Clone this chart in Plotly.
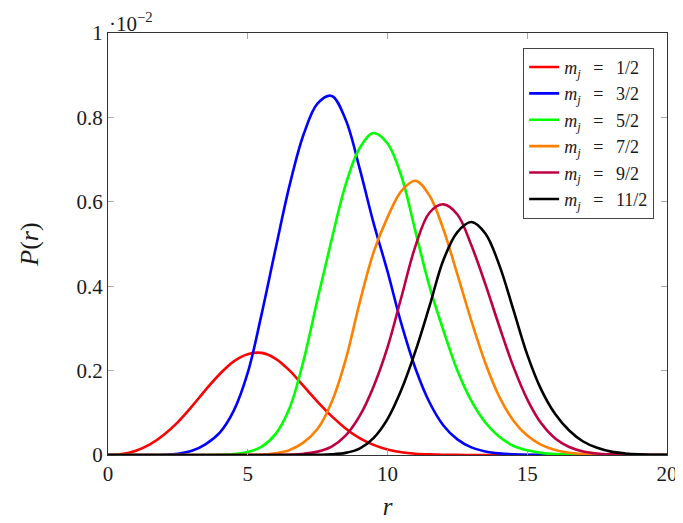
import plotly.graph_objects as go

r = [i * 0.5 for i in range(41)]

labels = ["1/2", "3/2", "5/2", "7/2", "9/2", "11/2"]
colors = ["#ff0000", "#0000ff", "#00ff00", "#ff8000", "#bf0040", "#000000"]

p_half_1 = [0, 0.002, 0.010, 0.025, 0.048, 0.078, 0.115, 0.155, 0.192, 0.222,
            0.239, 0.242, 0.228, 0.200, 0.163, 0.126, 0.092, 0.063, 0.040, 0.024,
            0.013, 0.0065, 0.003, 0.0014, 0.0006, 0.0002, 0.0001, 0, 0, 0,
            0, 0, 0, 0, 0, 0, 0, 0, 0, 0, 0]
p_half_3 = [0, 0, 0, 0, 0.0005, 0.003, 0.010, 0.026, 0.053, 0.105,
            0.195, 0.335, 0.490, 0.640, 0.760, 0.833, 0.851, 0.795, 0.680, 0.550,
            0.435, 0.310, 0.205, 0.125, 0.070, 0.037, 0.018, 0.0085, 0.0038, 0.0016,
            0.0006, 0.0002, 0.0001, 0, 0, 0, 0, 0, 0, 0, 0]
p_half_5 = [0, 0, 0, 0, 0, 0, 0, 0, 0.0005, 0.002,
            0.007, 0.020, 0.050, 0.112, 0.225, 0.370, 0.510, 0.640, 0.727, 0.763,
            0.738, 0.660, 0.530, 0.400, 0.295, 0.200, 0.128, 0.077, 0.043, 0.022,
            0.011, 0.005, 0.002, 0.0008, 0.0003, 0.0001, 0, 0, 0, 0, 0]
p_half_7 = [0, 0, 0, 0, 0, 0, 0, 0, 0, 0,
            0.0003, 0.001, 0.004, 0.012, 0.030, 0.062, 0.125, 0.225, 0.360, 0.480,
            0.563, 0.626, 0.650, 0.615, 0.535, 0.428, 0.318, 0.218, 0.138, 0.082,
            0.046, 0.024, 0.012, 0.0055, 0.0025, 0.001, 0.0004, 0.0001, 0, 0, 0]
p_half_9 = [0, 0, 0, 0, 0, 0, 0, 0, 0, 0,
            0, 0, 0.0003, 0.001, 0.003, 0.008, 0.020, 0.046, 0.092, 0.162,
            0.255, 0.375, 0.495, 0.574, 0.594, 0.570, 0.497, 0.405, 0.305, 0.210,
            0.132, 0.075, 0.039, 0.019, 0.0085, 0.0035, 0.0014, 0.0005, 0.0002, 0.0001, 0]
p_half_11 = [0, 0, 0, 0, 0, 0, 0, 0, 0, 0,
             0, 0, 0, 0, 0.0002, 0.0006, 0.0015, 0.005, 0.015, 0.040,
             0.085, 0.155, 0.246, 0.352, 0.462, 0.528, 0.552, 0.525, 0.450, 0.345,
             0.238, 0.155, 0.097, 0.058, 0.032, 0.017, 0.008, 0.0037, 0.0015, 0.0006, 0.0002]

series = [p_half_1, p_half_3, p_half_5, p_half_7, p_half_9, p_half_11]

x_ticks = [0, 5, 10, 15, 20]
y_ticks = [0, 0.2, 0.4, 0.6, 0.8, 1]
y_ticktext = ["0", "0.2", "0.4", "0.6", "0.8", "1"]

FONT = "Liberation Serif"
TXT = "#1a1a1a"
SP = "\u2002\u2009"

fig = go.Figure()
for vals, lab, col in zip(series, labels, colors):
    fig.add_trace(go.Scatter(
        x=r, y=vals, mode="lines",
        line=dict(color=col, width=2.6, shape="spline", smoothing=1.0),
        name=f"<i>m</i><sub><i>j</i></sub>{SP}={SP}{lab}",
    ))

axis_common = dict(
    showline=True, linecolor="#333333", linewidth=1.2, mirror="ticks",
    ticks="inside", ticklen=6, tickcolor="#aaaaaa", tickwidth=1,
    showgrid=False, zeroline=False, automargin=False,
    tickfont=dict(family=FONT, size=21, color=TXT),
)

fig.update_xaxes(range=[0, 20], tickvals=x_ticks, **axis_common,
                 title=dict(text="<i>r</i>", font=dict(family=FONT, size=25, color=TXT), standoff=12))
fig.update_yaxes(range=[0, 1], tickvals=y_ticks, ticktext=y_ticktext, **axis_common,
                 title=dict(text="<i>P</i>(<i>r</i>)", font=dict(family=FONT, size=26, color=TXT), standoff=30))

fig.add_annotation(
    xref="paper", yref="paper", x=0, y=1, xanchor="left", yanchor="top", yshift=25, xshift=0,
    text="·10<sup>−2</sup>", showarrow=False, borderpad=0,
    font=dict(family=FONT, size=21, color=TXT),
)

fig.update_layout(
    width=675, height=515,
    margin=dict(l=100, r=16, t=25, b=68),
    plot_bgcolor="white", paper_bgcolor="white",
    legend=dict(
        x=0.977, y=0.965, xanchor="right", yanchor="top",
        bgcolor="white", bordercolor="#444444", borderwidth=1,
        font=dict(family=FONT, size=18, color=TXT),
        tracegroupgap=0, itemwidth=30,
    ),
    showlegend=True,
)

fig.write_html("out.html")
